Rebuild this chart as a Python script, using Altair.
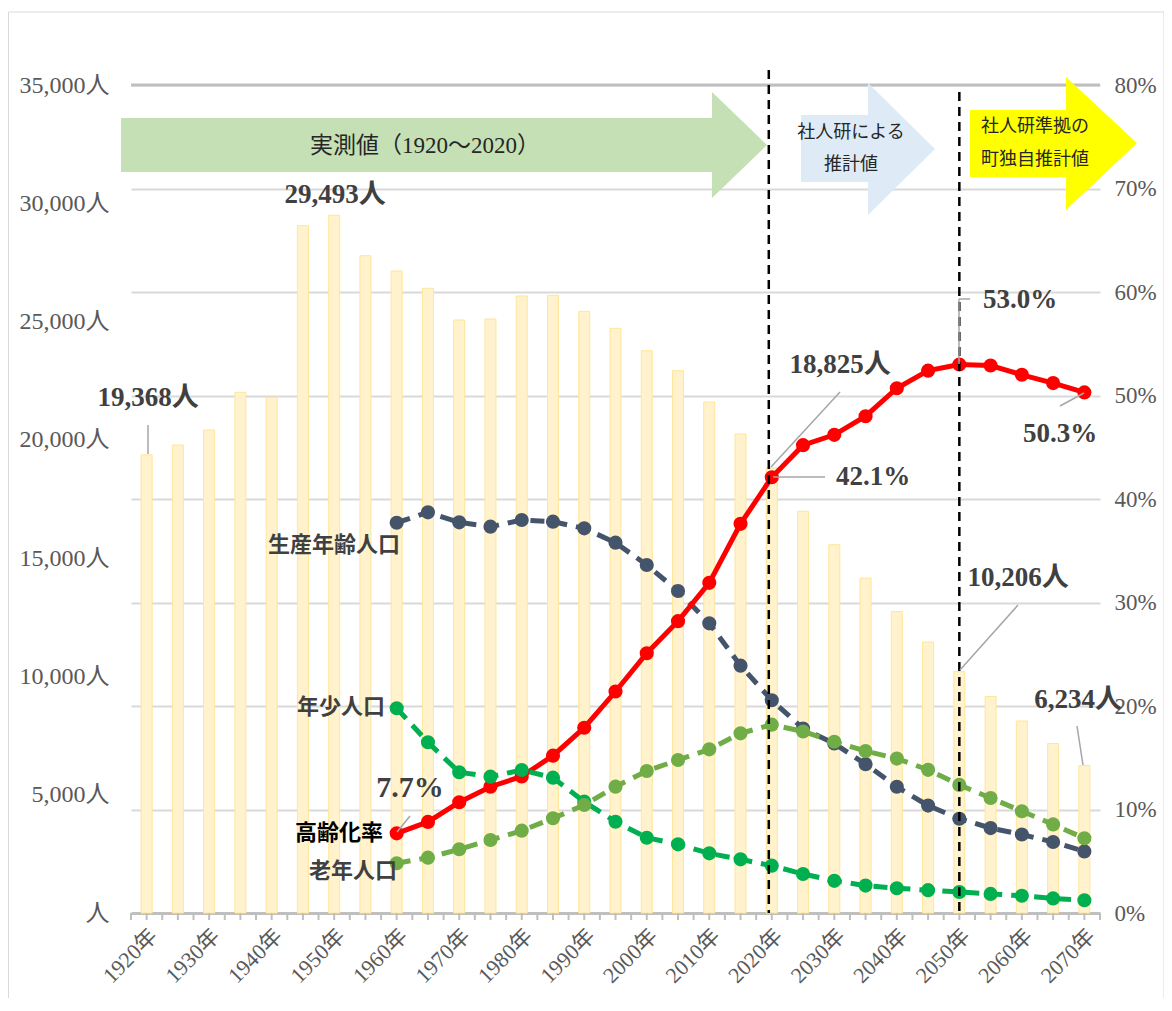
import altair as alt
import pandas as pd

# ---------------- data ----------------
years = list(range(1920, 2075, 5))
decades = list(range(1920, 2075, 10))
total = [19368, 19782, 20417, 22010, 21798, 29053, 29493, 27783, 27138, 26406,
         25066, 25109, 26082, 26110, 25434, 24716, 23770, 22924, 21600, 20247,
         18825, 16984, 15569, 14157, 12741, 11455, 10206, 9152, 8116, 7165, 6234]
line_years = list(range(1960, 2075, 5))
working = [16498, 16937, 16515, 16330, 16612, 16541, 16259, 15654, 14710, 13611, 12245, 10455,
           8991, 7799, 7165, 6290, 5335, 4540, 3986, 3589, 3318, 3001, 2604]
young = [8653, 7216, 5948, 5762, 6045, 5720, 4705, 3859, 3183, 2902, 2522, 2269,
         2000, 1649, 1361, 1158, 1045, 965, 888, 808, 727, 617, 537]
elderly = [2101, 2338, 2693, 3086, 3479, 4003, 4565, 5340, 6003, 6467, 6918, 7594,
           7960, 7672, 7241, 6848, 6527, 6053, 5415, 4861, 4303, 3745, 3158]
aging_pct = [7.7, 8.8, 10.7, 12.2, 13.2, 15.2, 17.9, 21.4, 25.1, 28.2, 31.9, 37.6,
             42.1, 45.2, 46.2, 48.0, 50.7, 52.4, 53.0, 52.9, 52.0, 51.2, 50.3]
left_ticks = list(range(0, 35001, 5000))
right_ticks = [i / 10 for i in range(9)]

# ---------------- layout ----------------
FONT = "Liberation Serif, Noto Sans CJK JP"
W, H = 969, 828
OX, OY = 131, 85          # page position of plot origin
STEP = W / len(years)

df_bar = pd.DataFrame({"year": years, "total": total})
df_line = pd.DataFrame({"year": line_years, "working": working, "young": young,
                        "elderly": elderly, "aging": [a / 100 for a in aging_pct]})

xscale = alt.Scale(domain=years, paddingInner=0, paddingOuter=0)
yleft = alt.Scale(domain=[0, 35000], nice=False, zero=True)
yright = alt.Scale(domain=[0, 0.8], nice=False, zero=True)
one = alt.Data(values=[{}])

XAXIS = alt.Axis(title=None, values=decades, labelExpr="datum.label + '年'",
                 labelAngle=-45, labelFontSize=22, labelColor="#595959", labelFont=FONT,
                 domainColor="#BFBFBF", domainWidth=3, ticks=False, tickSize=0,
                 labelPadding=12, labelOverlap=False, grid=False)


def X():
    return alt.X("year:O", scale=xscale, axis=XAXIS)


bars = alt.Chart(df_bar).mark_bar(size=11, fill="#FFF2CC", stroke="#FFE699", strokeWidth=1).encode(
    x=X(),
    y=alt.Y("total:Q", scale=yleft,
            axis=alt.Axis(title=None, orient="left", values=left_ticks,
                          labelExpr="datum.value == 0 ? '人' : format(datum.value, ',') + '人'",
                          labelFontSize=24, labelColor="#595959", labelFont=FONT,
                          domain=False, ticks=False, tickSize=0, labelPadding=22, grid=False)),
)

# small tick marks at band centres and band boundaries
cticks = alt.Chart(df_bar).mark_rule(color="#BFBFBF", strokeWidth=2).encode(
    x=X(), y=alt.value(H), y2=alt.value(H + 7))
bticks = alt.Chart(df_bar).mark_rule(color="#BFBFBF", strokeWidth=2, xOffset=-STEP / 2).encode(
    x=X(), y=alt.value(H), y2=alt.value(H + 7))
bticks_end = alt.Chart(one).mark_rule(color="#BFBFBF", strokeWidth=2).encode(
    x=alt.value(W), y=alt.value(H), y2=alt.value(H + 7))

top_rule = alt.Chart(one).mark_rule(color="#BFBFBF", strokeWidth=3).encode(
    x=alt.value(0), x2=alt.value(W), y=alt.value(0))

border = alt.Chart(one).mark_rect(fillOpacity=0, stroke="#D9D9D9", strokeWidth=1).encode(
    x=alt.value(-122.5), x2=alt.value(1164 - OX), y=alt.value(12 - OY), y2=alt.value(1040 - OY))


def pop_line(field, color):
    return alt.Chart(df_line).mark_line(
        color=color, strokeWidth=5, strokeDash=[14, 9],
        point=alt.OverlayMarkDef(filled=True, color=color, size=200, opacity=1)
    ).encode(x=X(), y=alt.Y(f"{field}:Q", scale=yleft, axis=None))


navy = pop_line("working", "#44546A")
yng = pop_line("young", "#00B050")
old = pop_line("elderly", "#70AD47")

red = alt.Chart(df_line).mark_line(
    color="#FF0000", strokeWidth=5,
    point=alt.OverlayMarkDef(filled=True, color="#FF0000", size=200, opacity=1)
).encode(
    x=X(),
    y=alt.Y("aging:Q", scale=yright,
            axis=alt.Axis(title=None, orient="right", values=right_ticks, format=".0%",
                          labelFontSize=23, labelColor="#595959", labelFont=FONT,
                          domain=False, ticks=False, tickSize=0, labelPadding=14,
                          grid=True, gridColor="#D9D9D9", gridWidth=2)),
)

vd1 = alt.Chart(pd.DataFrame({"year": [2020]})).mark_rule(
    color="black", strokeWidth=2.5, strokeDash=[9, 6], xOffset=-3).encode(
    x=X(), y=alt.value(70 - OY), y2=alt.value(H))
vd2 = alt.Chart(pd.DataFrame({"year": [2050]})).mark_rule(
    color="black", strokeWidth=2.5, strokeDash=[9, 6]).encode(
    x=X(), y=alt.value(92 - OY), y2=alt.value(H))


def arrow(pts, color):
    path = "M " + " L ".join(f"{x - OX} {y - OY}" for x, y in pts) + " Z"
    return alt.Chart(one).mark_point(shape=path, size=4, filled=True, fill=color,
                                     color=color, opacity=1, strokeWidth=0).encode(
        x=alt.value(0), y=alt.value(0))


a_green = arrow([(121, 118), (712, 118), (712, 92), (767, 145), (712, 198), (712, 172), (121, 172)], "#C5E0B4")
a_blue = arrow([(801, 115), (868, 115), (868, 83), (935, 149), (868, 215), (868, 182), (801, 182)], "#DEEBF7")
a_yel = arrow([(970, 110), (1066, 110), (1066, 77), (1137, 143), (1066, 210), (1066, 177), (970, 177)], "#FFFF00")


def txt(text, x, y, size=27, color="#404040", align="center", weight="normal"):
    return alt.Chart(one).mark_text(text=text, fontSize=size, font=FONT, color=color,
                                    align=align, baseline="middle", fontWeight=weight).encode(
        x=alt.value(x - OX), y=alt.value(y - OY))


def seg(x1, y1, x2, y2):
    return alt.Chart(one).mark_rule(color="#A6A6A6", strokeWidth=1.5).encode(
        x=alt.value(x1 - OX), y=alt.value(y1 - OY), x2=alt.value(x2 - OX), y2=alt.value(y2 - OY))


def ppl(v):
    return f"{v:,}人"


B = "bold"
texts = [
    txt("実測値（1920〜2020）", 425, 146, size=23, color="#262626"),
    txt("社人研による", 851, 133, size=18, color="#262626"),
    txt("推計値", 851, 165, size=18, color="#262626"),
    txt("社人研準拠の", 1035, 127, size=18, color="#262626"),
    txt("町独自推計値", 1035, 160, size=18, color="#262626"),
    txt(ppl(total[0]), 148, 398, weight=B),
    txt(ppl(total[6]), 335, 195, weight=B),
    txt(ppl(total[20]), 840, 365, weight=B),
    txt(f"{aging_pct[12]}%", 873, 477, weight=B),
    txt(f"{aging_pct[18]}%", 1020, 300, weight=B),
    txt(f"{aging_pct[-1]}%", 1060, 434, weight=B),
    txt(ppl(total[26]), 1018, 578, weight=B),
    txt(ppl(total[-1]), 1078, 700, weight=B),
    txt(f"{aging_pct[0]}%", 410, 788, size=30, weight=B),
    txt("生産年齢人口", 400, 545, size=22, align="right", weight=B),
    txt("年少人口", 385, 707, size=22, align="right", weight=B),
    txt("高齢化率", 383, 833, size=22, color="#000000", align="right", weight=B),
    txt("老年人口", 397, 871, size=22, align="right", weight=B),
]
segs = [
    seg(148, 425, 148, 454),
    seg(397, 832, 410, 816),
    seg(771, 467, 840, 392),
    seg(773, 477, 825, 477),
    seg(959, 364, 959, 299),
    seg(959, 299, 970, 299),
    seg(1084, 393, 1060, 406),
    seg(960, 670, 1018, 605),
    seg(1083, 765, 1077, 726),
]

chart = alt.layer(
    border, bars, cticks, bticks, bticks_end, top_rule,
    navy, red, yng, old, vd1, vd2,
    a_green, a_blue, a_yel, *segs, *texts
).resolve_scale(y="independent").properties(
    width=W, height=H,
    padding={"left": 123, "top": 77, "right": 64, "bottom": 85},
    autosize=alt.AutoSizeParams(type="none"),
).configure_view(stroke="transparent")

chart.save("out.html", embed_options={"renderer": "svg", "actions": False})
